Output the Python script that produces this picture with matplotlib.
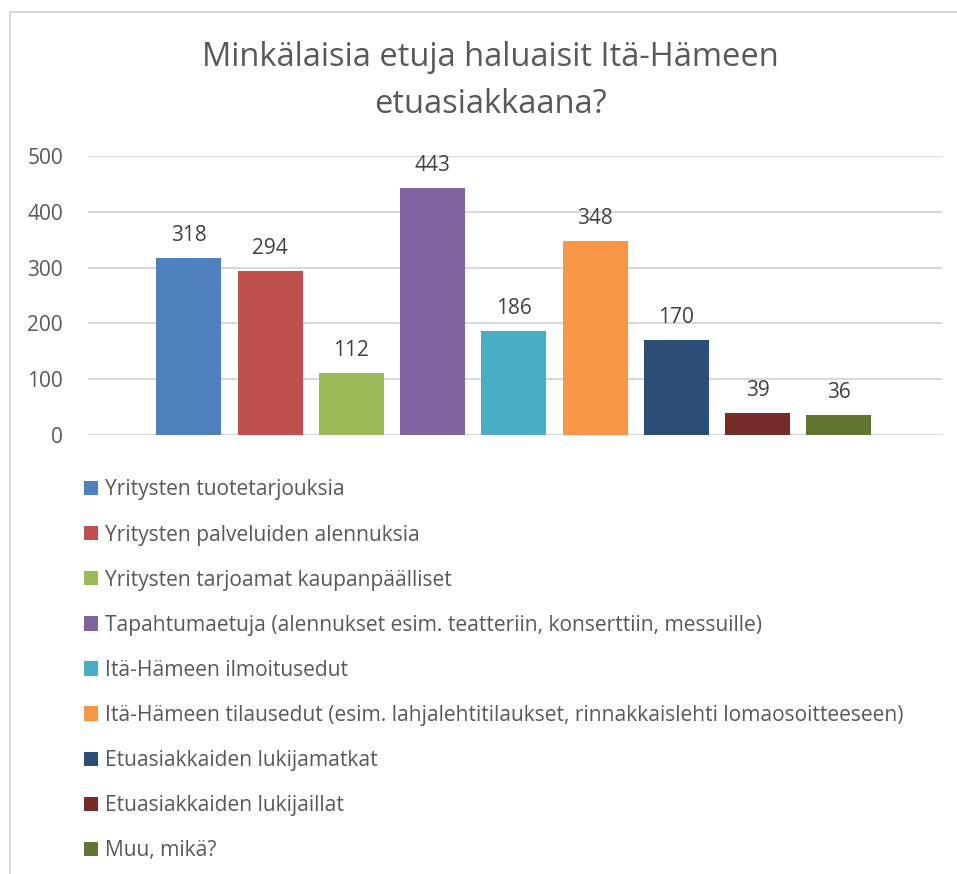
import matplotlib
matplotlib.use("Agg")
import matplotlib.pyplot as plt

plt.rcParams['font.family'] = ['Open Sans', 'DejaVu Sans']

labels = [
    "Yritysten tuotetarjouksia",
    "Yritysten palveluiden alennuksia",
    "Yritysten tarjoamat kaupanpäälliset",
    "Tapahtumaetuja (alennukset esim. teatteriin, konserttiin, messuille)",
    "Itä-Hämeen ilmoitusedut",
    "Itä-Hämeen tilausedut (esim. lahjalehtitilaukset, rinnakkaislehti lomaosoitteeseen)",
    "Etuasiakkaiden lukijamatkat",
    "Etuasiakkaiden lukijaillat",
    "Muu, mikä?",
]
values = [318, 294, 112, 443, 186, 348, 170, 39, 36]
colors = ["#4F81BD", "#C0504D", "#9BBB59", "#8064A2", "#4BACC6",
          "#F79646", "#2C4D75", "#772C2A", "#5F7530"]
yticks = [0, 100, 200, 300, 400, 500]

text_color = "#595959"

fig = plt.figure(figsize=(9.57, 8.74), dpi=100)
W, H = 957, 874

# chart frame (only left and top edges are visible in the crop)
fig.add_artist(plt.Line2D([10 / W, 10 / W], [0, 1 - 12 / H], color="#D9D9D9", lw=1.5))
fig.add_artist(plt.Line2D([10 / W, 1], [1 - 12 / H, 1 - 12 / H], color="#D9D9D9", lw=1.5))

ax = fig.add_axes([88 / W, 439 / H, 854 / W, 279 / H])

bars = []
for i, (v, c, lab) in enumerate(zip(values, colors, labels)):
    b = ax.bar(i, v, width=0.8, color=c, label=lab, zorder=3)
    bars.append(b)
    ax.text(i, v + 40, str(v), ha="center", va="center",
            fontsize=15, color="#404040")

ax.set_xlim(-1.24, 9.27)
ax.set_ylim(0, 500)
ax.set_yticks(yticks)
ax.set_xticks([])
ax.grid(axis="y", color="#D9D9D9", lw=1.5, zorder=0)
for s in ax.spines.values():
    s.set_visible(False)
ax.tick_params(axis="y", length=0, pad=18, labelsize=15, labelcolor=text_color)

fig.text(490 / W, 1 - 81 / H, "Minkälaisia etuja haluaisit Itä-Hämeen\netuasiakkaana?",
         ha="center", va="center", fontsize=23.5, color=text_color, linespacing=1.57)

fig.legend(handles=[b[0] for b in bars], labels=labels,
           loc="upper left", bbox_to_anchor=(76 / W, 1 - 471 / H),
           frameon=False, fontsize=15.1, labelcolor=text_color,
           handlelength=0.67, handleheight=0.67, handletextpad=0.3,
           labelspacing=1.15, borderaxespad=0)

fig.savefig("out.png", dpi=100)
